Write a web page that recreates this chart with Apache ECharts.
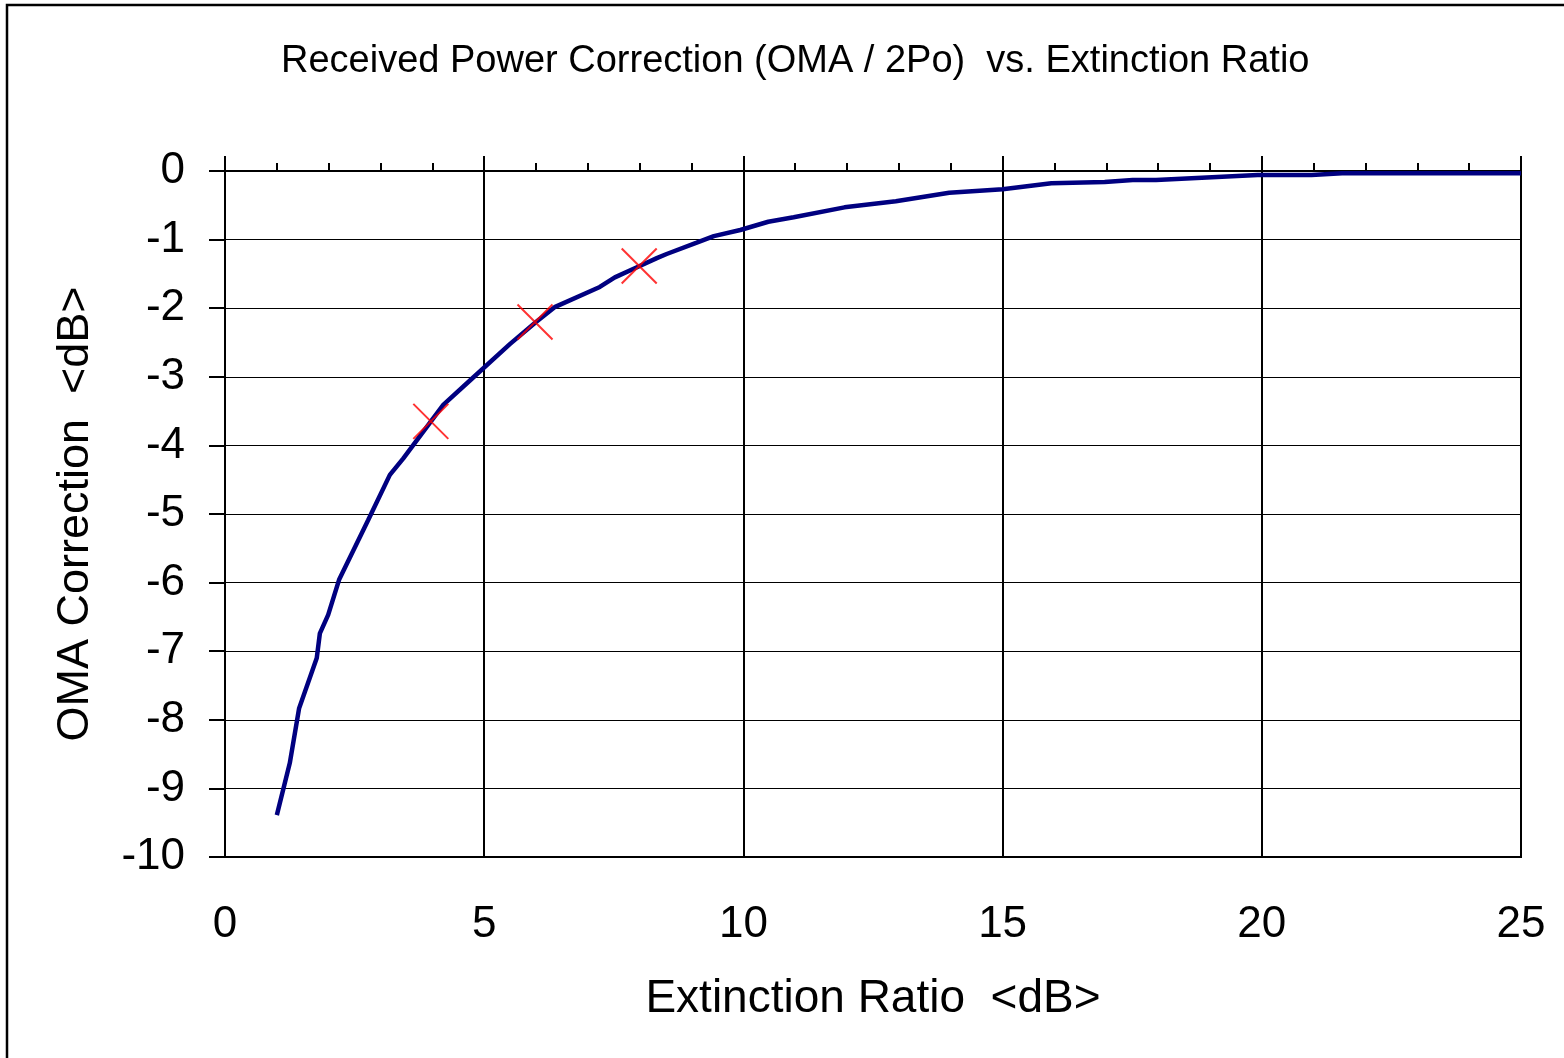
<!DOCTYPE html>
<html>
<head>
<meta charset="utf-8">
<script src="https://cdn.jsdelivr.net/npm/echarts@6/dist/echarts.min.js"></script>
<style>
  html, body { margin: 0; padding: 0; background: #fff; }
  #chart { width: 1564px; height: 1058px; }
</style>
</head>
<body>
<div id="chart"></div>
<script>
// extinction ratio <dB> and OMA correction <dB>
var erDb = [1.0, 1.25, 1.43, 1.77, 1.83, 1.99, 2.2, 2.76, 3.18, 3.44, 4.21, 4.73,
  5.5, 6.0, 6.37, 7.23, 7.52, 8.0, 8.33, 8.52, 9.1, 9.43, 9.94, 10.48, 10.97,
  11.95, 12.94, 13.97, 15.0, 15.94, 16.97, 17.51, 17.96, 19.92, 20.96, 21.55, 25.0];
var omaDb = [-9.39, -8.63, -7.83, -7.10, -6.74, -6.47, -5.96, -5.09, -4.43, -4.19, -3.41, -3.05,
  -2.52, -2.2, -1.98, -1.69, -1.55, -1.385, -1.27, -1.21, -1.045, -0.95, -0.86, -0.74, -0.675,
  -0.53, -0.44, -0.316, -0.267, -0.18, -0.16, -0.13, -0.13, -0.058, -0.058, -0.034, -0.034];

// red crosses
var markEr = [3.97, 5.98, 7.99];
var markOma = [-3.65, -2.2, -1.385];

var font = "'Liberation Sans', Arial, sans-serif";

var curve = erDb.map(function (x, i) { return [x, omaDb[i]]; });
var marks = markEr.map(function (x, i) { return [x, markOma[i]]; });

var chart = echarts.init(document.getElementById("chart"));
var option = {
  backgroundColor: "#fff",
  animation: false,
  title: {
    text: "Received Power Correction (OMA / 2Po)  vs. Extinction Ratio",
    left: 281,
    top: 43,
    padding: 0,
    textStyle: { fontFamily: font, fontSize: 38, fontWeight: "normal", color: "#000" }
  },
  graphic: [
    {
      type: "rect",
      shape: { x: 7, y: 5, width: 2000, height: 2000 },
      style: { fill: "none", stroke: "#000", lineWidth: 2.5 },
      silent: true
    }
  ],
  grid: {
    left: 225,
    top: 171,
    right: 43,
    bottom: 201,
    show: true,
    borderColor: "#000",
    borderWidth: 2
  },
  xAxis: [
    {
      type: "value",
      min: 0,
      max: 25,
      interval: 5,
      position: "bottom",
      name: "Extinction Ratio  <dB>",
      nameLocation: "middle",
      nameGap: 119,
      nameTextStyle: { fontFamily: font, fontSize: 46, color: "#000" },
      axisLine: { show: true, lineStyle: { color: "#000", width: 2 } },
      axisTick: { show: false },
      axisLabel: { fontFamily: font, fontSize: 44, color: "#000", margin: 46 },
      splitLine: { show: true, lineStyle: { color: "#000", width: 2 } }
    },
    {
      type: "value",
      min: 0,
      max: 25,
      interval: 5,
      position: "top",
      axisLine: { show: true, lineStyle: { color: "#000", width: 2 } },
      axisTick: { show: true, inside: false, length: 15, lineStyle: { color: "#000", width: 2 } },
      minorTick: { show: true, splitNumber: 5, length: 8, lineStyle: { color: "#000", width: 2 } },
      axisLabel: { show: false },
      splitLine: { show: false }
    }
  ],
  yAxis: {
    type: "value",
    min: -10,
    max: 0,
    interval: 1,
    name: "OMA Correction  <dB>",
    nameLocation: "middle",
    nameGap: 127,
    nameTextStyle: { fontFamily: font, fontSize: 45, color: "#000" },
    axisLine: { show: true, onZero: false, lineStyle: { color: "#000", width: 2 } },
    axisTick: { show: true, inside: false, length: 16, lineStyle: { color: "#000", width: 2 } },
    axisLabel: { fontFamily: font, fontSize: 44, color: "#000", margin: 40 },
    splitLine: { show: true, lineStyle: { color: "#000", width: 1.2 } }
  },
  series: [
    {
      type: "line",
      data: curve,
      showSymbol: false,
      lineStyle: { color: "#000080", width: 4.5 },
      z: 3
    },
    {
      type: "scatter",
      data: marks,
      symbol: "path://M0,0L10,10M10,0L0,10",
      symbolSize: 35,
      itemStyle: { color: "none", borderColor: "#ff0000", borderWidth: 2 },
      z: 4
    },
    {
      // keeps the top axis bound to the grid
      type: "line",
      xAxisIndex: 1,
      data: [],
      showSymbol: false
    }
  ]
};
chart.setOption(option);
</script>
</body>
</html>
